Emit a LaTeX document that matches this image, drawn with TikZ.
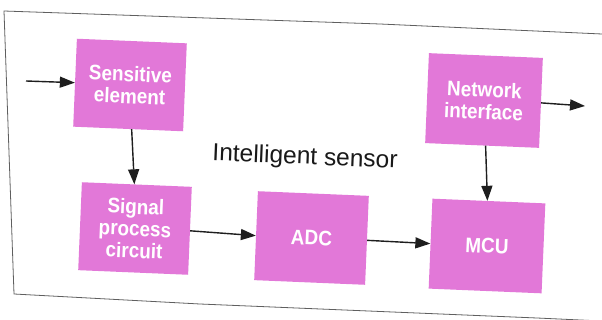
\documentclass[tikz,border=0pt]{standalone}
\usepackage{fontspec}
\setmainfont{Liberation Sans}
\newfontfamily\boxfont[FakeStretch=0.9]{Liberation Sans}
\usetikzlibrary{arrows.meta}
\definecolor{boxpink}{RGB}{226,120,216}
\definecolor{linecol}{RGB}{30,30,30}
\definecolor{framecol}{RGB}{95,95,95}
\tikzset{
  blockbox/.style={fill=boxpink, draw=none, rotate=-2.4, text=white,
    font=\boxfont\bfseries\fontsize{21}{22}\selectfont, align=center, inner sep=0pt},
  flow/.style={draw=linecol, line width=1.4pt, -{Triangle[length=15pt,width=11pt]}},
  framelines/.style={draw=framecol, line width=0.8pt}
}
\begin{document}
\begin{tikzpicture}[x=1pt,y=-1pt]
\useasboundingbox (0,0) rectangle (602,320);
\fill[white] (0,0) rectangle (602,320);
% frame of the figure (photographed page)
\draw[framelines] (602,34) -- (380,24) -- (4,11) -- (14,294) -- (200,304) -- (537,318) -- (602,321);
% blocks
\node[blockbox, minimum width=110pt, minimum height=88pt] (sens) at (130,85) {Sensitive\\element};
\node[blockbox, minimum width=110pt, minimum height=88pt] (sig) at (135,228.5) {Signal\\process\\circuit};
\node[blockbox, minimum width=111pt, minimum height=89pt] (adc) at (311.5,238) {ADC};
\node[blockbox, minimum width=113pt, minimum height=90pt] (mcu) at (487,246) {MCU};
\node[blockbox, minimum width=114pt, minimum height=90pt] (net) at (484,100.5) {Network\\interface};
\node[rotate=-2.4, font=\fontsize{24.5}{28}\selectfont, text=black!90] (title) at (305,158) {Intelligent sensor};
% free ends
\coordinate (inp) at (26,81);
\coordinate (outp) at (585,106);
% connectors
\draw[flow] (inp) -- (sens.west);
\draw[flow] ([xshift=3.5pt]sens.south) -- ([xshift=-2.5pt]sig.north);
\draw[flow] (sig.east) -- (adc.west);
\draw[flow] (adc.east) -- (mcu.west);
\draw[flow] ([xshift=3.5pt]net.south) -- ([xshift=-1.5pt]mcu.north);
\draw[flow] (net.east) -- (outp);
\end{tikzpicture}
\end{document}
